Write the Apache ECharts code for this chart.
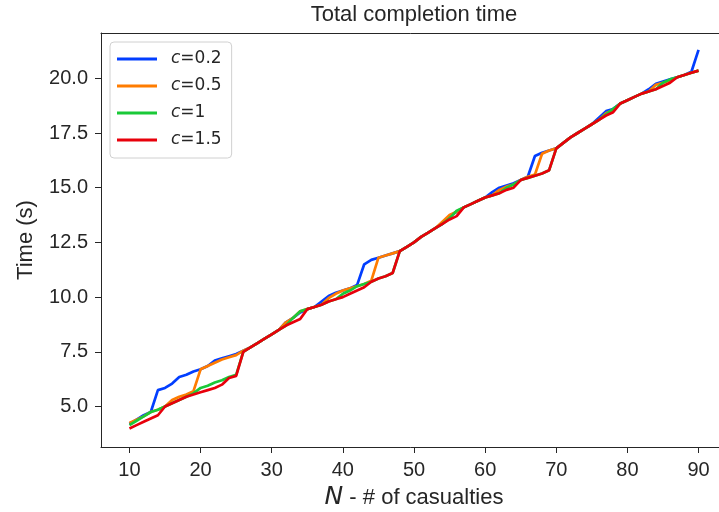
<!DOCTYPE html>
<html><head><meta charset="utf-8">
<script src="https://cdn.jsdelivr.net/npm/echarts@6/dist/echarts.min.js"></script>
<style>html,body{margin:0;padding:0;background:#fff}#c{width:719px;height:512px}</style>
</head><body><div id="c"></div>
<script>
const casualties = [10,11,12,13,14,15,16,17,18,19,20,21,22,23,24,25,26,27,28,29,30,31,32,33,34,35,36,37,38,39,40,41,42,43,44,45,46,47,48,49,50,51,52,53,54,55,56,57,58,59,60,61,62,63,64,65,66,67,68,69,70,71,72,73,74,75,76,77,78,79,80,81,82,83,84,85,86,87,88,89,90];

const c02 = [4.20,4.40,4.60,4.75,5.75,5.85,6.05,6.35,6.45,6.60,6.70,6.85,7.10,7.20,7.30,7.40,7.55,7.70,7.90,8.10,8.30,8.50,8.85,9.05,9.30,9.45,9.55,9.80,10.05,10.20,10.30,10.40,10.55,11.50,11.70,11.80,11.90,12.00,12.10,12.30,12.50,12.75,12.95,13.15,13.35,13.70,13.90,14.10,14.25,14.40,14.55,14.80,15.00,15.10,15.20,15.35,15.50,16.45,16.60,16.70,16.80,17.05,17.30,17.50,17.70,17.90,18.20,18.50,18.60,18.85,19.00,19.15,19.30,19.50,19.75,19.85,19.95,20.05,20.15,20.30,21.30];

const c05 = [4.25,4.40,4.55,4.75,4.85,5.00,5.30,5.45,5.55,5.70,6.70,6.85,7.00,7.15,7.25,7.35,7.55,7.70,7.90,8.10,8.30,8.50,8.85,9.05,9.35,9.45,9.55,9.65,9.95,10.15,10.30,10.40,10.50,10.60,10.75,11.80,11.90,12.00,12.10,12.30,12.50,12.75,12.95,13.15,13.45,13.75,13.90,14.10,14.25,14.40,14.55,14.65,14.90,15.05,15.15,15.35,15.50,15.60,16.55,16.70,16.80,17.05,17.30,17.50,17.70,17.90,18.10,18.40,18.55,18.85,19.00,19.15,19.30,19.40,19.70,19.80,19.90,20.05,20.15,20.25,20.35];

const c1 = [4.15,4.35,4.55,4.75,4.85,5.00,5.15,5.30,5.45,5.60,5.85,5.95,6.10,6.20,6.35,6.45,7.50,7.70,7.90,8.10,8.30,8.50,8.70,9.05,9.35,9.45,9.55,9.65,9.80,9.90,10.15,10.30,10.50,10.60,10.70,10.85,10.95,11.10,12.10,12.30,12.50,12.75,12.95,13.15,13.35,13.60,13.95,14.10,14.25,14.40,14.55,14.65,14.75,15.00,15.15,15.35,15.45,15.55,15.65,15.80,16.80,17.05,17.30,17.50,17.70,17.90,18.10,18.35,18.60,18.85,19.00,19.15,19.30,19.40,19.50,19.80,19.95,20.05,20.15,20.25,20.35];

const c15 = [4.00,4.15,4.30,4.45,4.60,5.00,5.15,5.30,5.45,5.55,5.65,5.75,5.85,6.00,6.30,6.40,7.50,7.70,7.90,8.10,8.30,8.50,8.70,8.85,9.00,9.45,9.55,9.65,9.80,9.90,10.00,10.15,10.30,10.45,10.70,10.85,10.95,11.10,12.10,12.30,12.50,12.75,12.95,13.15,13.35,13.55,13.70,14.10,14.25,14.40,14.55,14.65,14.75,14.90,15.00,15.35,15.45,15.55,15.65,15.80,16.80,17.05,17.30,17.50,17.70,17.90,18.10,18.30,18.45,18.85,19.00,19.15,19.30,19.40,19.50,19.65,19.80,20.05,20.15,20.25,20.35];

const seriesNames = ['c=0.2','c=0.5','c=1','c=1.5'];
const seriesValues = [c02, c05, c1, c15];
const xTicks = [10,20,30,40,50,60,70,80,90];
const yTicks = [5.0,7.5,10.0,12.5,15.0,17.5,20.0];

const colors = ['#023eff','#ff7c00','#1ac938','#e8000b'];
const sans = '"Liberation Sans", Arial, sans-serif';
const ink = '#262626';

const chart = echarts.init(document.getElementById('c'), null, {renderer:'canvas'});
chart.setOption({
  animation: false,
  color: colors,
  grid: {left:101, right:-8, top:33, bottom:65, show:false, outerBoundsMode:'none', containLabel:false},
  graphic: [{
    type:'text', x:414, y:15,
    style:{text:'Total completion time', align:'center', verticalAlign:'middle', fontSize:22, fontFamily:sans, fill:ink}
  }],
  legend: {
    orient:'vertical', left:110, top:42,
    padding:[7,10,8,7], itemGap:7, itemWidth:40, itemHeight:3, icon:'rect',
    backgroundColor:'rgba(255,255,255,0.85)', borderColor:'#d0d0d0', borderWidth:1, borderRadius:4,
    data: seriesNames,
    formatter: function(name){ return '{s|}{i|c}{n|' + name.slice(1) + '}'; },
    textStyle: {
      lineHeight:20,
      rich:{
        s:{width:9},
        i:{fontFamily:'"DejaVu Sans", sans-serif', fontStyle:'italic', fontSize:17, color:ink},
        n:{fontFamily:'"DejaVu Sans", sans-serif', fontSize:17, color:ink}
      }
    }
  },
  xAxis: [{
    type:'value', min:6, max:94, position:'bottom',
    name:'{i|N} - # of casualties', nameLocation:'middle', nameGap:38,
    nameTextStyle:{fontSize:22, fontFamily:sans, color:ink,
      rich:{i:{fontStyle:'italic', fontSize:25, fontFamily:'"DejaVu Sans", sans-serif', color:ink}}},
    axisLine:{show:true, lineStyle:{color:ink, width:1}},
    axisTick:{show:true, length:6, lineStyle:{color:ink}, customValues:xTicks},
    axisLabel:{fontSize:20, fontFamily:sans, color:ink, margin:13, customValues:xTicks},
    splitLine:{show:false}
  },{
    type:'value', min:6, max:94, position:'top',
    axisLine:{show:true, onZero:false, lineStyle:{color:ink, width:1}},
    axisTick:{show:false}, axisLabel:{show:false}, splitLine:{show:false}
  }],
  yAxis: {
    type:'value', min:3.15, max:22.07,
    name:'Time (s)', nameLocation:'middle', nameGap:64, nameRotate:90,
    nameTextStyle:{fontSize:22, fontFamily:sans, color:ink},
    axisLine:{show:true, lineStyle:{color:ink, width:1}},
    axisTick:{show:true, length:6, lineStyle:{color:ink}, customValues:yTicks},
    axisLabel:{fontSize:20, fontFamily:sans, color:ink, margin:13, customValues:yTicks,
      formatter:function(v){return Number(v).toFixed(1);}},
    splitLine:{show:false}
  },
  series: seriesNames.map(function(nm, k){
    return {
      name:nm, type:'line', symbol:'none', showSymbol:false, xAxisIndex:0,
      lineStyle:{width:2.7, color:colors[k]},
      itemStyle:{color:colors[k]},
      data: casualties.map(function(n, j){ return [n, seriesValues[k][j]]; })
    };
  })
});
</script></body></html>
